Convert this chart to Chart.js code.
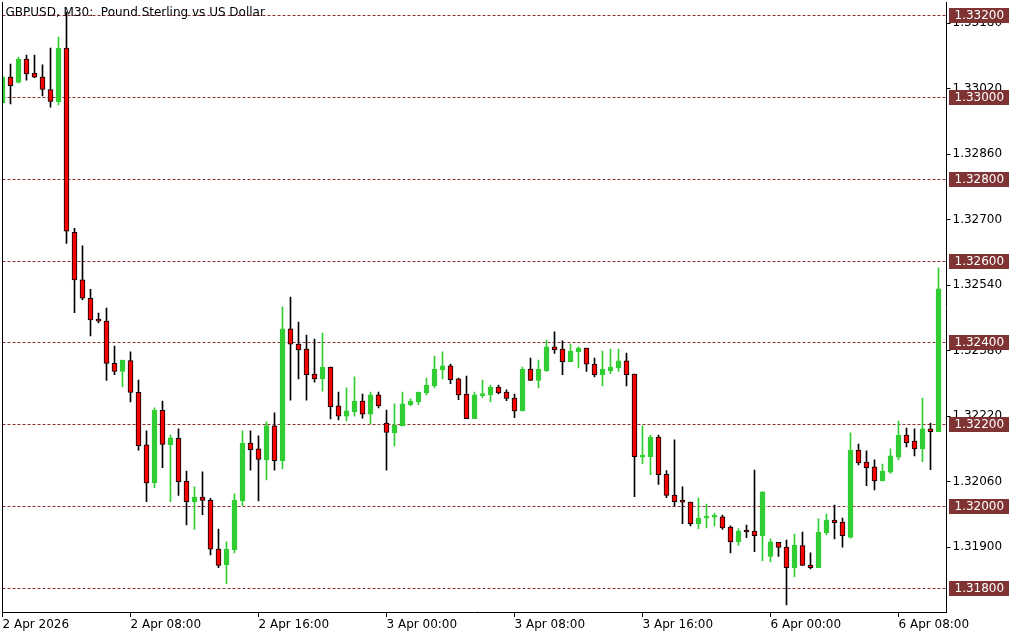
<!DOCTYPE html>
<html>
<head>
<meta charset="utf-8">
<script src="https://cdn.jsdelivr.net/npm/chart.js@4.4.1/dist/chart.umd.min.js"></script>
<style>
  html, body { margin: 0; padding: 0; background: #fff; }
</style>
</head>
<body>
<canvas id="chart" width="1024" height="640"></canvas>
<script>
// GBPUSD M30 candles, 2 Apr 00:00 -> 6 Apr 10:30 (one entry per bar)
const opens = [
  1.32986, 1.33048, 1.33035, 1.33092, 1.33058, 1.33048, 1.33018, 1.32988, 1.33119, 1.32669,
  1.32553, 1.32508, 1.32457, 1.32452, 1.32349, 1.32329, 1.32356, 1.32278, 1.32150, 1.32057,
  1.32234, 1.32150, 1.32166, 1.32061, 1.32011, 1.32022, 1.32014, 1.31895, 1.31857, 1.31894,
  1.32013, 1.32154, 1.32140, 1.32113, 1.32196, 1.32111, 1.32433, 1.32396, 1.32384, 1.32323,
  1.32311, 1.32340, 1.32245, 1.32220, 1.32230, 1.32257, 1.32225, 1.32272, 1.32203, 1.32179,
  1.32196, 1.32248, 1.32255, 1.32277, 1.32294, 1.32333, 1.32343, 1.32311, 1.32274, 1.32214,
  1.32270, 1.32272, 1.32291, 1.32279, 1.32264, 1.32233, 1.32335, 1.32307, 1.32331, 1.32389,
  1.32384, 1.32353, 1.32377, 1.32386, 1.32347, 1.32321, 1.32331, 1.32338, 1.32355, 1.32323,
  1.32120, 1.32121, 1.32169, 1.32078, 1.32027, 1.32012, 1.32010, 1.31957, 1.31971, 1.31973,
  1.31974, 1.31949, 1.31913, 1.31939, 1.31939, 1.31928, 1.31877, 1.31912, 1.31900, 1.31850,
  1.31904, 1.31856, 1.31850, 1.31935, 1.31966, 1.31961, 1.31924, 1.32137, 1.32108, 1.32096,
  1.32062, 1.32083, 1.32120, 1.32174, 1.32159, 1.32140, 1.32189, 1.32182
];
const highs = [
  1.33053, 1.33080, 1.33097, 1.33102, 1.33102, 1.33078, 1.33119, 1.33146, 1.33207, 1.32679,
  1.32636, 1.32530, 1.32472, 1.32484, 1.32391, 1.32357, 1.32377, 1.32308, 1.32184, 1.32240,
  1.32257, 1.32174, 1.32189, 1.32086, 1.32047, 1.32084, 1.32019, 1.31944, 1.31913, 1.32030,
  1.32184, 1.32184, 1.32172, 1.32206, 1.32228, 1.32487, 1.32511, 1.32450, 1.32418, 1.32408,
  1.32423, 1.32340, 1.32279, 1.32289, 1.32316, 1.32274, 1.32279, 1.32279, 1.32235, 1.32250,
  1.32279, 1.32262, 1.32279, 1.32313, 1.32367, 1.32377, 1.32347, 1.32313, 1.32318, 1.32279,
  1.32308, 1.32296, 1.32296, 1.32284, 1.32274, 1.32340, 1.32362, 1.32357, 1.32406, 1.32426,
  1.32404, 1.32396, 1.32389, 1.32386, 1.32362, 1.32379, 1.32384, 1.32384, 1.32374, 1.32323,
  1.32196, 1.32174, 1.32174, 1.32087, 1.32162, 1.32047, 1.32010, 1.32020, 1.32005, 1.31983,
  1.31978, 1.31952, 1.31945, 1.31954, 1.32088, 1.32035, 1.31920, 1.31912, 1.31917, 1.31932,
  1.31937, 1.31886, 1.31969, 1.31981, 1.32003, 1.31971, 1.32179, 1.32152, 1.32135, 1.32113,
  1.32103, 1.32140, 1.32208, 1.32191, 1.32189, 1.32264, 1.32203, 1.32582
];
const lows = [
  1.32983, 1.32983, 1.33034, 1.33041, 1.33047, 1.33002, 1.32975, 1.32980, 1.32642, 1.32473,
  1.32504, 1.32416, 1.32448, 1.32307, 1.32321, 1.32292, 1.32255, 1.32137, 1.32011, 1.32045,
  1.32094, 1.32011, 1.32026, 1.31954, 1.31943, 1.31979, 1.31881, 1.31850, 1.31811, 1.31886,
  1.32001, 1.32088, 1.32013, 1.32064, 1.32088, 1.32091, 1.32259, 1.32311, 1.32259, 1.32303,
  1.32281, 1.32213, 1.32211, 1.32208, 1.32220, 1.32215, 1.32201, 1.32240, 1.32088, 1.32147,
  1.32196, 1.32245, 1.32248, 1.32272, 1.32289, 1.32311, 1.32299, 1.32260, 1.32214, 1.32214,
  1.32265, 1.32255, 1.32274, 1.32258, 1.32216, 1.32233, 1.32307, 1.32289, 1.32329, 1.32373,
  1.32321, 1.32353, 1.32338, 1.32329, 1.32316, 1.32294, 1.32324, 1.32329, 1.32294, 1.32023,
  1.32104, 1.32077, 1.32053, 1.32021, 1.32000, 1.31957, 1.31952, 1.31945, 1.31947, 1.31952,
  1.31943, 1.31886, 1.31904, 1.31923, 1.31889, 1.31867, 1.31864, 1.31877, 1.31759, 1.31828,
  1.31855, 1.31847, 1.31850, 1.31930, 1.31920, 1.31900, 1.31922, 1.32101, 1.32050, 1.32040,
  1.32062, 1.32080, 1.32113, 1.32145, 1.32123, 1.32109, 1.32089, 1.32182
];
const closes = [
  1.33048, 1.33027, 1.33092, 1.33056, 1.33048, 1.33018, 1.32989, 1.33119, 1.32672, 1.32553,
  1.32508, 1.32455, 1.32452, 1.32349, 1.32329, 1.32357, 1.32278, 1.32148, 1.32057, 1.32235,
  1.32151, 1.32167, 1.32060, 1.32011, 1.32022, 1.32014, 1.31895, 1.31855, 1.31895, 1.32015,
  1.32154, 1.32138, 1.32114, 1.32197, 1.32111, 1.32433, 1.32396, 1.32382, 1.32321, 1.32311,
  1.32340, 1.32243, 1.32220, 1.32233, 1.32257, 1.32225, 1.32272, 1.32245, 1.32180, 1.32198,
  1.32250, 1.32257, 1.32279, 1.32296, 1.32335, 1.32343, 1.32309, 1.32272, 1.32214, 1.32272,
  1.32274, 1.32291, 1.32277, 1.32263, 1.32233, 1.32335, 1.32307, 1.32335, 1.32389, 1.32382,
  1.32353, 1.32379, 1.32386, 1.32347, 1.32321, 1.32335, 1.32340, 1.32355, 1.32321, 1.32121,
  1.32122, 1.32169, 1.32077, 1.32026, 1.32011, 1.32010, 1.31957, 1.31971, 1.31973, 1.31974,
  1.31947, 1.31913, 1.31939, 1.31937, 1.31928, 1.32035, 1.31913, 1.31899, 1.31850, 1.31905,
  1.31855, 1.31850, 1.31937, 1.31966, 1.31960, 1.31928, 1.32137, 1.32106, 1.32094, 1.32062,
  1.32086, 1.32123, 1.32174, 1.32155, 1.32140, 1.32189, 1.32182, 1.32531
];

// time axis: bar index of each label
const xTickIndex = [0, 16, 32, 48, 64, 80, 96, 112];
const xTickLabels = ["2 Apr 2026", "2 Apr 08:00", "2 Apr 16:00", "3 Apr 00:00",
                     "3 Apr 08:00", "3 Apr 16:00", "6 Apr 00:00", "6 Apr 08:00"];

// price axis
const yTicks = [1.31900, 1.32060, 1.32220, 1.32380, 1.32540, 1.32700, 1.32860, 1.33020, 1.33180];
const yMin = 1.317415;
const yMax = 1.332317;

// horizontal lines with their price tags
const levels = [1.33200, 1.33000, 1.32800, 1.32600, 1.32400, 1.32200, 1.32000, 1.31800];

const title = "GBPUSD, M30:  Pound Sterling vs US Dollar";

const BULL = "#32cd32";
const BEAR = "#ff0000";
const LEVEL = "#8b2e2e";
const TAG = "#7f3333";
const FONT = '12px "DejaVu Sans"';

const idx = opens.map((_, i) => i);
const isUp = idx.map(i => closes[i] > opens[i]);

const overlay = {
  id: "overlay",
  beforeDatasetsDraw(chart) {
    const { ctx, chartArea: a, scales } = chart;
    ctx.save();
    ctx.strokeStyle = LEVEL;
    ctx.lineWidth = 1;
    ctx.setLineDash([3, 2]);
    levels.forEach(v => {
      const py = Math.round(scales.y.getPixelForValue(v)) + 0.5;
      ctx.beginPath();
      ctx.moveTo(a.left, py);
      ctx.lineTo(a.right, py);
      ctx.stroke();
    });
    ctx.restore();
  },
  afterDatasetsDraw(chart) {
    const { ctx, chartArea: a } = chart;
    ctx.save();
    ctx.fillStyle = "#000";
    ctx.font = FONT;
    ctx.textBaseline = "middle";
    ctx.fillText(title, a.left + 3, 13);
    // left frame
    ctx.strokeStyle = "#000";
    ctx.lineWidth = 1;
    ctx.beginPath();
    ctx.moveTo(a.left, a.top);
    ctx.lineTo(a.left, a.bottom);
    ctx.stroke();
    ctx.restore();
  },
  afterDraw(chart) {
    const { ctx, chartArea: a, scales } = chart;
    ctx.save();
    ctx.font = FONT;
    ctx.textBaseline = "middle";
    levels.forEach(v => {
      const py = Math.round(scales.y.getPixelForValue(v)) + 0.5;
      ctx.fillStyle = TAG;
      ctx.fillRect(a.right + 2.5, py - 7.5, 60, 15);
      ctx.fillStyle = "#fff";
      ctx.fillText(v.toFixed(5), a.right + 8, py + 0.5);
    });
    ctx.restore();
  }
};

new Chart(document.getElementById("chart"), {
  type: "bar",
  data: {
    datasets: [
      {
        label: "body",
        data: idx.map(i => ({ x: i, y: [opens[i], closes[i]] })),
        backgroundColor: idx.map(i => isUp[i] ? BULL : BEAR),
        borderColor: idx.map(i => isUp[i] ? BULL : "#000"),
        borderWidth: 1,
        borderSkipped: false,
        barThickness: 5,
        minBarLength: 2,
        grouped: false,
        order: 0
      },
      {
        label: "wick",
        data: idx.map(i => ({ x: i, y: [lows[i], highs[i]] })),
        backgroundColor: idx.map(i => isUp[i] ? BULL : "#000"),
        borderWidth: 0,
        barThickness: 1,
        grouped: false,
        order: 1
      }
    ]
  },
  options: {
    responsive: false,
    animation: false,
    layout: { padding: { left: 2.5, top: 2, right: 0, bottom: 0 } },
    plugins: { legend: { display: false }, tooltip: { enabled: false } },
    scales: {
      x: {
        type: "linear",
        min: 0,
        max: 118,
        offset: false,
        afterBuildTicks: s => { s.ticks = xTickIndex.map(v => ({ value: v })); },
        afterFit: s => { s.height = 28; s.paddingLeft = 0; s.paddingRight = 0; },
        ticks: {
          autoSkip: false,
          maxRotation: 0,
          align: "start",
          padding: 1,
          color: "#000",
          font: { family: "DejaVu Sans", size: 12 },
          callback: v => xTickLabels[xTickIndex.indexOf(v)]
        },
        grid: { display: true, drawOnChartArea: false, offset: false, tickLength: 5, color: "#000" },
        border: { display: true, color: "#000" }
      },
      y: {
        position: "right",
        min: yMin,
        max: yMax,
        afterBuildTicks: s => { s.ticks = yTicks.map(v => ({ value: v })); },
        afterFit: s => { s.width = 77.5; s.paddingTop = 0; s.paddingBottom = 0; },
        ticks: {
          padding: 2,
          color: "#000",
          font: { family: "DejaVu Sans", size: 12 },
          callback: v => v.toFixed(5)
        },
        grid: { display: true, drawOnChartArea: false, tickLength: 4, color: "#000" },
        border: { display: true, color: "#000" }
      }
    }
  },
  plugins: [overlay]
});
</script>
</body>
</html>
